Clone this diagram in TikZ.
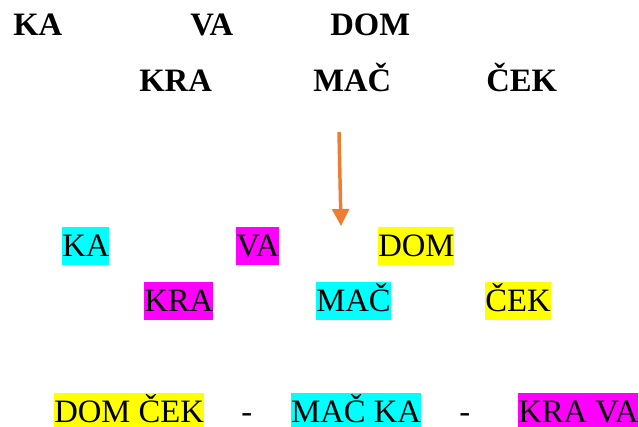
\documentclass[tikz,border=0pt]{standalone}
\usepackage{fontspec}
\setmainfont{Liberation Serif}
\usetikzlibrary{arrows.meta}
\definecolor{hcyan}{HTML}{00FFFF}
\definecolor{hmag}{HTML}{FF00FF}
\definecolor{hyel}{HTML}{FFFF00}
\definecolor{arrorange}{HTML}{ED7D31}
\tikzset{
  word/.style={anchor=base west, inner sep=0pt, font=\fontsize{24.5}{28}\selectfont\bfseries},
  hl/.style={anchor=base west, inner sep=0pt, text height=22.5pt, text depth=6pt, font=\fontsize{24.5}{28}\selectfont, fill=#1},
  hlb/.style={hl=#1, text depth=3pt},
  plain/.style={anchor=base west, inner sep=0pt, font=\fontsize{24.5}{28}\selectfont},
  bigarrow/.style={draw=arrorange, line width=2.6pt, -{Triangle[length=12.75pt,width=12.5pt]}}
}
\begin{document}
\begin{tikzpicture}[x=0.75pt,y=-0.75pt]
\useasboundingbox (0,0) rectangle (639,427);
% top words (bold)
\node[word] (t1) at (13,36) {KA};
\node[word] (t2) at (190,36) {VA};
\node[word] (t3) at (330,36) {DOM};
\node[word] (t4) at (139,91.5) {KRA};
\node[word] (t5) at (313,91.5) {MAČ};
\node[word] (t6) at (486,91.5) {ČEK};
% arrow
\coordinate (a1) at (339,132);
\coordinate (a2) at (341,226);
\draw[bigarrow] (a1) -- (a2);
% highlighted words
\node[hl=hcyan] (c1) at (62,257) {KA};
\node[hl=hmag] (c2) at (236,257) {VA};
\node[hl=hyel] (c3) at (378,257) {DOM};
\node[hl=hmag] (c4) at (144,312) {KRA};
\node[hl=hcyan] (c5) at (316,312) {MAČ};
\node[hl=hyel] (c6) at (485,312) {ČEK};
% bottom line
\node[hlb=hyel] (b1) at (54,423) {DOM ČEK};
\node[plain] (d1) at (241,423) {-};
\node[hlb=hcyan] (b2) at (291,423) {MAČ KA};
\node[plain] (d2) at (459,423) {-};
\node[hlb=hmag] (b3) at (518,423) {KRA VA};
\end{tikzpicture}
\end{document}
